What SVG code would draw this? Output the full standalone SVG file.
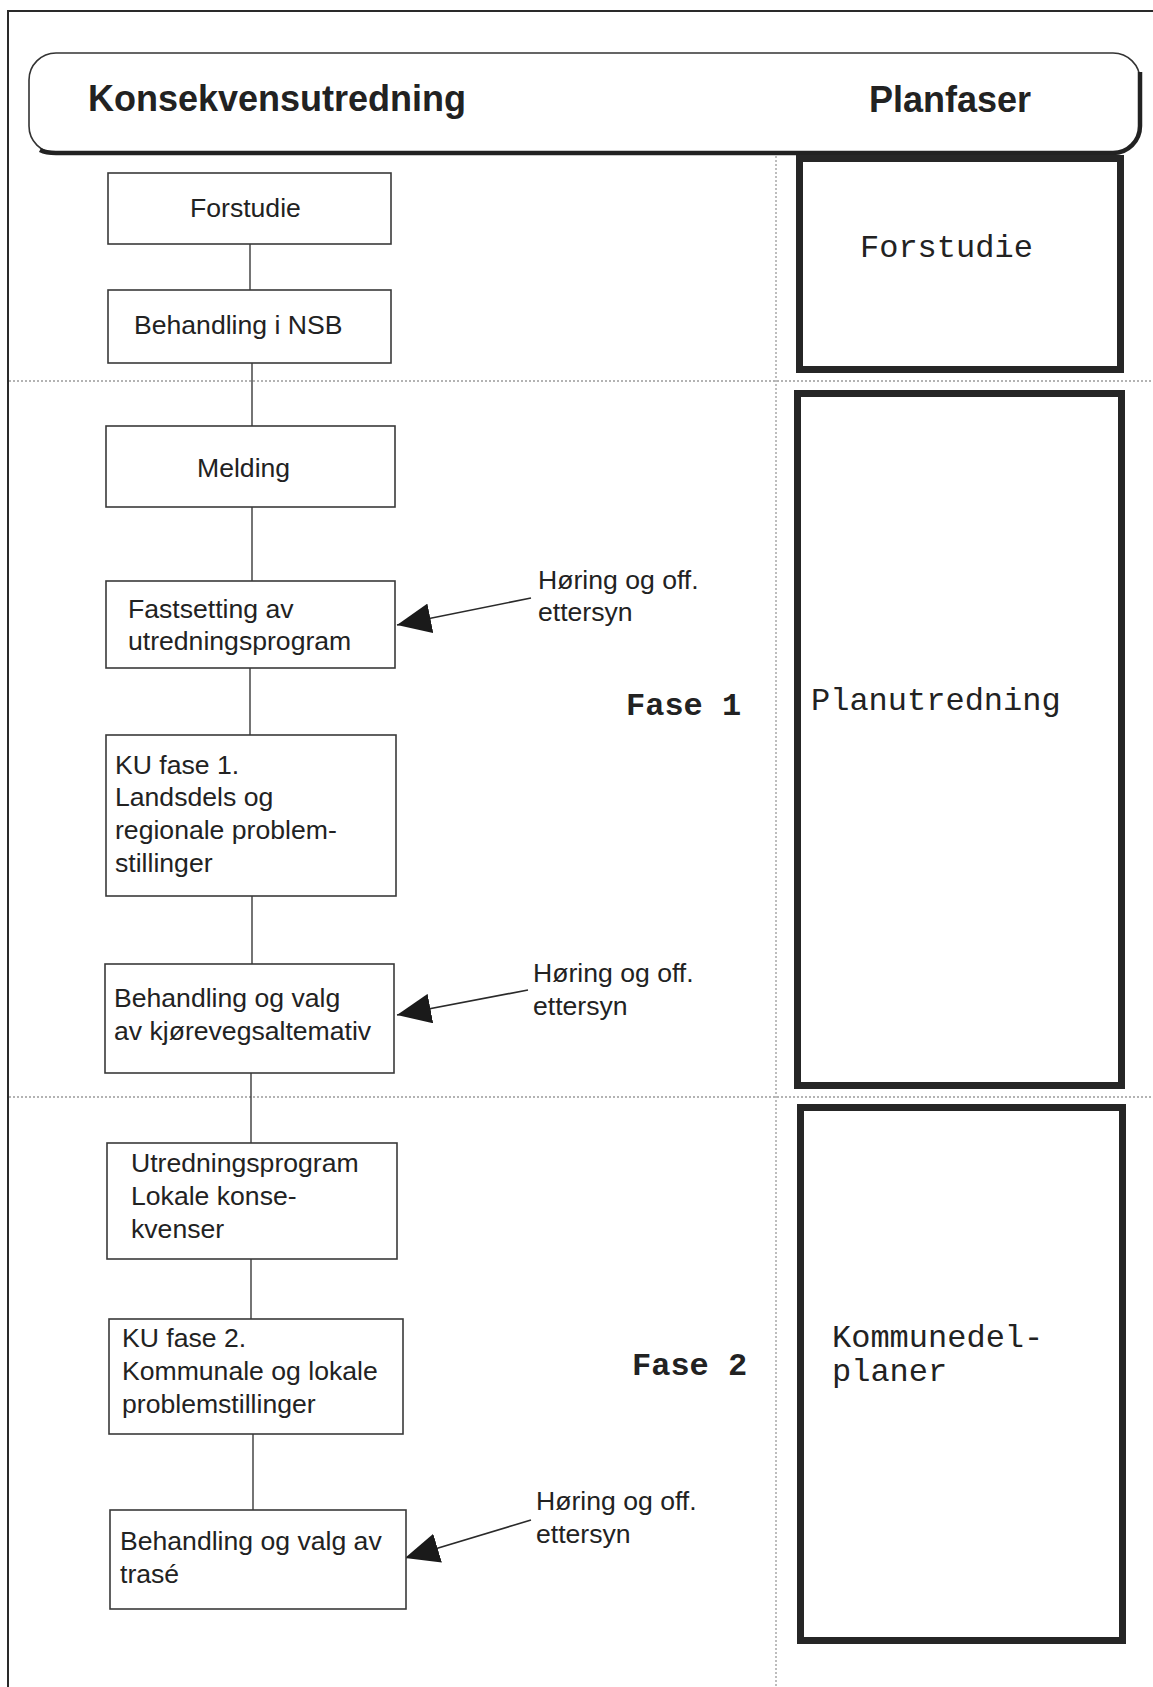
<svg xmlns="http://www.w3.org/2000/svg" width="1153" height="1687" viewBox="0 0 1153 1687">
<style>
.frame{fill:none;stroke:#2a2a2a;stroke-width:2}
.box{fill:#fff;stroke:#3a3a3a;stroke-width:1.6}
.phase{fill:#fff;stroke:#262626;stroke-width:7}
.dot{stroke:#9a9a9a;stroke-width:1.3;stroke-dasharray:2 2;fill:none}
.conn{stroke:#3a3a3a;stroke-width:1.4;fill:none}
.arr{stroke:#2a2a2a;stroke-width:1.6;fill:none;marker-end:url(#ah)}
.t{font-family:"Liberation Sans",Arial,sans-serif;font-size:26.6px;fill:#222}
.h{font-family:"Liberation Sans",Arial,sans-serif;font-size:36px;font-weight:bold;fill:#222}
.m{font-family:"Liberation Mono","Courier New",monospace;font-size:32px;fill:#222}
.mb{font-family:"Liberation Mono","Courier New",monospace;font-size:32px;font-weight:bold;fill:#222}
</style>
<defs>
<marker id="ah" viewBox="0 0 34 30" refX="34" refY="15" markerWidth="34" markerHeight="30" markerUnits="userSpaceOnUse" orient="auto">
<path d="M0,0 L34,15 L0,30 z" fill="#1a1a1a"/>
</marker>
</defs>
<rect width="1153" height="1687" fill="#fff"/>
<g id="frame">
<path class="frame" d="M8,1687 L8,11 L1153,11"/>
</g>
<g id="dividers">
<line class="dot" x1="776" y1="156" x2="776" y2="1687"/>
<line class="dot" x1="9" y1="381" x2="1153" y2="381"/>
<line class="dot" x1="9" y1="1097" x2="1153" y2="1097"/>
</g>
<g id="header">
<rect x="29" y="53" width="1111" height="100" rx="27" ry="27" fill="#fff" stroke="#333" stroke-width="1.6"/>
<path d="M40,150 Q46,153 56,153 L1113,153 A27,27 0 0 0 1140,126 L1140,72" fill="none" stroke="#222" stroke-width="4.5"/>
<text class="h" x="88" y="111">Konsekvensutredning</text>
<text class="h" x="869" y="112">Planfaser</text>
</g>
<g id="connectors">
<line class="conn" x1="250" y1="244" x2="250" y2="290"/>
<line class="conn" x1="252" y1="363" x2="252" y2="426"/>
<line class="conn" x1="252" y1="507" x2="252" y2="581"/>
<line class="conn" x1="250" y1="668" x2="250" y2="735"/>
<line class="conn" x1="252" y1="896" x2="252" y2="964"/>
<line class="conn" x1="251" y1="1073" x2="251" y2="1143"/>
<line class="conn" x1="251" y1="1259" x2="251" y2="1319"/>
<line class="conn" x1="253" y1="1434" x2="253" y2="1510"/>
<line class="arr" x1="531" y1="598" x2="397" y2="625"/>
<line class="arr" x1="528" y1="990" x2="397" y2="1015"/>
<line class="arr" x1="531" y1="1520" x2="405" y2="1558"/>
</g>
<g id="n-forstudie">
<rect class="box" x="108" y="173" width="283" height="71"/>
<text class="t" x="190" y="217">Forstudie</text>
</g>
<g id="n-behandling-nsb">
<rect class="box" x="108" y="290" width="283" height="73"/>
<text class="t" x="134" y="334">Behandling i NSB</text>
</g>
<g id="n-melding">
<rect class="box" x="106" y="426" width="289" height="81"/>
<text class="t" x="197" y="477">Melding</text>
</g>
<g id="n-fastsetting">
<rect class="box" x="106" y="581" width="289" height="87"/>
<text class="t" x="128" y="618">Fastsetting av</text>
<text class="t" x="128" y="650">utredningsprogram</text>
</g>
<g id="n-ku1">
<rect class="box" x="106" y="735" width="290" height="161"/>
<text class="t" x="115" y="774">KU fase 1.</text>
<text class="t" x="115" y="806">Landsdels og</text>
<text class="t" x="115" y="839">regionale problem-</text>
<text class="t" x="115" y="872">stillinger</text>
</g>
<g id="n-valg1">
<rect class="box" x="105" y="964" width="289" height="109"/>
<text class="t" x="114" y="1007">Behandling og valg</text>
<text class="t" x="114" y="1040">av kjørevegsaltemativ</text>
</g>
<g id="n-utredningsprogram">
<rect class="box" x="107" y="1143" width="290" height="116"/>
<text class="t" x="131" y="1172">Utredningsprogram</text>
<text class="t" x="131" y="1205">Lokale konse-</text>
<text class="t" x="131" y="1238">kvenser</text>
</g>
<g id="n-ku2">
<rect class="box" x="109" y="1319" width="294" height="115"/>
<text class="t" x="122" y="1347">KU fase 2.</text>
<text class="t" x="122" y="1380">Kommunale og lokale</text>
<text class="t" x="122" y="1413">problemstillinger</text>
</g>
<g id="n-valg2">
<rect class="box" x="110" y="1510" width="296" height="99"/>
<text class="t" x="120" y="1550">Behandling og valg av</text>
<text class="t" x="120" y="1583">trasé</text>
</g>
<g id="l-horing1">
<text class="t" x="538" y="589">Høring og off.</text>
<text class="t" x="538" y="621">ettersyn</text>
</g>
<g id="l-horing2">
<text class="t" x="533" y="982">Høring og off.</text>
<text class="t" x="533" y="1015">ettersyn</text>
</g>
<g id="l-horing3">
<text class="t" x="536" y="1510">Høring og off.</text>
<text class="t" x="536" y="1543">ettersyn</text>
</g>
<g id="l-fase1">
<text class="mb" x="626" y="715">Fase 1</text>
</g>
<g id="l-fase2">
<text class="mb" x="632" y="1375">Fase 2</text>
</g>
<g id="p-forstudie">
<rect class="phase" x="799.5" y="158.5" width="321" height="211"/>
<text class="m" x="860" y="257">Forstudie</text>
</g>
<g id="p-planutredning">
<rect class="phase" x="797.5" y="393.5" width="324" height="692"/>
<text class="m" x="811" y="710">Planutredning</text>
</g>
<g id="p-kommunedelplaner">
<rect class="phase" x="800.5" y="1107.5" width="322" height="533"/>
<text class="m" x="832" y="1347">Kommunedel-</text>
<text class="m" x="832" y="1381">planer</text>
</g>
</svg>
